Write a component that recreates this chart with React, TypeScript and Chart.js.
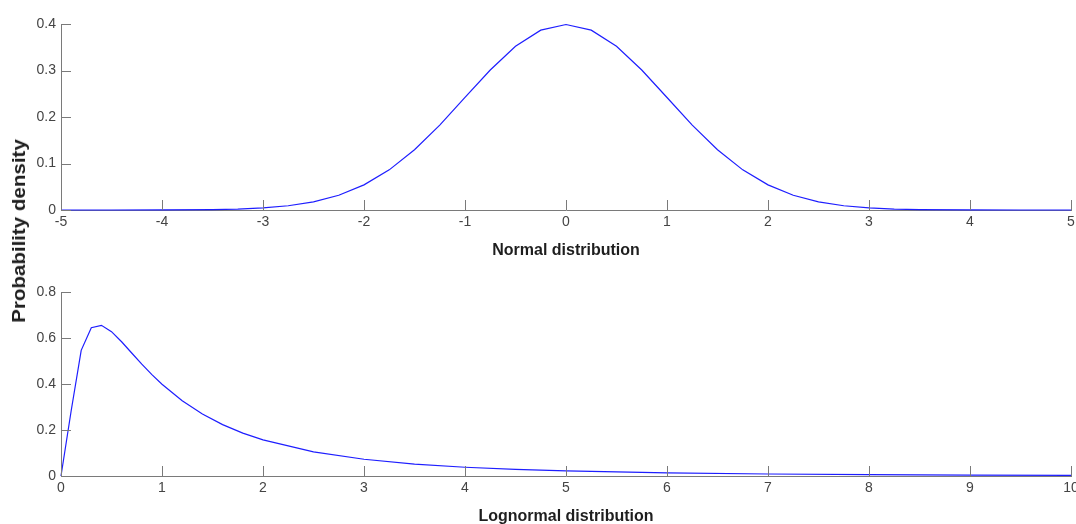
import React, { useEffect, useRef } from "react";
import { Chart, registerables } from "chart.js";

Chart.register(...registerables);

// ---- Data ----
const normalX = [-5, -4.5, -4, -3.5, -3.25, -3, -2.75, -2.5, -2.25, -2, -1.75, -1.5, -1.25, -1, -0.75, -0.5, -0.25, 0, 0.25, 0.5, 0.75, 1, 1.25, 1.5, 1.75, 2, 2.25, 2.5, 2.75, 3, 3.25, 3.5, 4, 4.5, 5];
const normalY = [0, 0, 0.0001, 0.0009, 0.002, 0.0044, 0.0091, 0.0175, 0.0317, 0.054, 0.0863, 0.1295, 0.1826, 0.242, 0.3011, 0.3521, 0.3867, 0.3989, 0.3867, 0.3521, 0.3011, 0.242, 0.1826, 0.1295, 0.0863, 0.054, 0.0317, 0.0175, 0.0091, 0.0044, 0.002, 0.0009, 0.0001, 0, 0];

const lognormalX = [0, 0.1, 0.2, 0.3, 0.4, 0.5, 0.6, 0.7, 0.8, 0.9, 1, 1.2, 1.4, 1.6, 1.8, 2, 2.5, 3, 3.5, 4, 4.5, 5, 6, 7, 8, 9, 10];
const lognormalY = [0, 0.2816, 0.5463, 0.6444, 0.6552, 0.6276, 0.5836, 0.5348, 0.4864, 0.4408, 0.3989, 0.3269, 0.2693, 0.2233, 0.1865, 0.1569, 0.1049, 0.0727, 0.052, 0.0381, 0.0286, 0.0219, 0.0134, 0.0086, 0.0057, 0.004, 0.0028];

const normalXTicks = [-5, -4, -3, -2, -1, 0, 1, 2, 3, 4, 5];
const normalXTickLabels = ["-5", "-4", "-3", "-2", "-1", "0", "1", "2", "3", "4", "5"];
const normalYTicks = [0, 0.1, 0.2, 0.3, 0.4];
const normalYTickLabels = ["0", "0.1", "0.2", "0.3", "0.4"];

const lognormalXTicks = [0, 1, 2, 3, 4, 5, 6, 7, 8, 9, 10];
const lognormalXTickLabels = ["0", "1", "2", "3", "4", "5", "6", "7", "8", "9", "10"];
const lognormalYTicks = [0, 0.2, 0.4, 0.6, 0.8];
const lognormalYTickLabels = ["0", "0.2", "0.4", "0.6", "0.8"];

const normalTitle = "Normal distribution";
const lognormalTitle = "Lognormal distribution";
const yAxisTitle = "Probability density";

// ---- Styles ----
const W = 1076;
const H = 262;
const AXIS = "#7a7a7a";
const TICK_TEXT = "#444444";
const TITLE_TEXT = "#1e1e1e";
const LINE = "rgb(30,30,255)";
const TICK_FONT = '"Liberation Sans Narrow", "Liberation Sans", Arial, sans-serif';
const TITLE_FONT = '"Liberation Sans", Arial, sans-serif';

const inwardTicks = {
  id: "inwardTicks",
  afterDatasetsDraw(chart: any) {
    const { ctx, chartArea, scales } = chart;
    ctx.save();
    ctx.strokeStyle = AXIS;
    ctx.lineWidth = 1;
    scales.x.ticks.forEach((t: any) => {
      const px = Math.round(scales.x.getPixelForValue(t.value)) + 0.5;
      ctx.beginPath();
      ctx.moveTo(px, chartArea.bottom);
      ctx.lineTo(px, chartArea.bottom - 10);
      ctx.stroke();
    });
    scales.y.ticks.forEach((t: any) => {
      const py = Math.round(scales.y.getPixelForValue(t.value)) + 0.5;
      ctx.beginPath();
      ctx.moveTo(chartArea.left, py);
      ctx.lineTo(chartArea.left + 10, py);
      ctx.stroke();
    });
    ctx.restore();
  },
};

function makeConfig(
  xs: number[],
  ys: number[],
  xTicks: number[],
  xLabels: string[],
  yTicks: number[],
  yLabels: string[],
  title: string,
  padTop: number,
  xAxisHeight: number,
  titlePadBottom: number
): any {
  const pts = xs.map((x, i) => ({ x, y: ys[i] }));
  return {
    type: "line",
    data: {
      datasets: [
        {
          data: pts,
          borderColor: LINE,
          borderWidth: 1.2,
          pointRadius: 0,
          fill: false,
          tension: 0,
          clip: false,
        },
      ],
    },
    options: {
      animation: false,
      responsive: false,
      events: [],
      layout: { padding: { top: padTop, right: 5, left: 0, bottom: 0 } },
      plugins: { legend: { display: false }, tooltip: { enabled: false } },
      scales: {
        x: {
          type: "linear",
          min: xTicks[0],
          max: xTicks[xTicks.length - 1],
          afterBuildTicks: (s: any) => {
            s.ticks = xTicks.map((v) => ({ value: v }));
          },
          afterFit: (s: any) => {
            s.height = xAxisHeight;
            s.paddingLeft = 0;
            s.paddingRight = 0;
          },
          ticks: {
            autoSkip: false,
            maxRotation: 0,
            padding: 4,
            color: TICK_TEXT,
            font: { family: TICK_FONT, size: 14 },
            callback: (_v: any, i: number) => xLabels[i],
          },
          grid: { display: true, drawOnChartArea: false, drawTicks: false },
          border: { display: true, color: AXIS, width: 1 },
          title: {
            display: true,
            text: title,
            color: TITLE_TEXT,
            font: { family: TITLE_FONT, size: 16, weight: "bold", lineHeight: 0.8 },
            padding: { top: 0, bottom: titlePadBottom },
          },
        },
        y: {
          type: "linear",
          min: yTicks[0],
          max: yTicks[yTicks.length - 1],
          afterBuildTicks: (s: any) => {
            s.ticks = yTicks.map((v) => ({ value: v }));
          },
          afterFit: (s: any) => {
            s.width = 61;
            s.paddingTop = 0;
            s.paddingBottom = 0;
          },
          ticks: {
            autoSkip: false,
            padding: 5,
            color: TICK_TEXT,
            font: { family: TICK_FONT, size: 14 },
            callback: (_v: any, i: number) => yLabels[i],
          },
          grid: { display: true, drawOnChartArea: false, drawTicks: false },
          border: { display: true, color: AXIS, width: 1 },
        },
      },
    },
    plugins: [inwardTicks],
  };
}

export default function App() {
  const topRef = useRef<HTMLCanvasElement | null>(null);
  const botRef = useRef<HTMLCanvasElement | null>(null);

  useEffect(() => {
    if (!topRef.current || !botRef.current) return;
    const c1 = new Chart(
      topRef.current,
      makeConfig(normalX, normalY, normalXTicks, normalXTickLabels, normalYTicks, normalYTickLabels, normalTitle, 24, 52, 4.6)
    );
    const c2 = new Chart(
      botRef.current,
      makeConfig(lognormalX, lognormalY, lognormalXTicks, lognormalXTickLabels, lognormalYTicks, lognormalYTickLabels, lognormalTitle, 30, 48, 0.6)
    );
    return () => {
      c1.destroy();
      c2.destroy();
    };
  }, []);

  return (
    <div style={{ position: "absolute", left: 0, top: 0, width: W, height: 2 * H, background: "#fff", overflow: "hidden" }}>
      <canvas ref={topRef} width={W} height={H} style={{ position: "absolute", left: 0, top: 0, width: W, height: H }} />
      <canvas ref={botRef} width={W} height={H} style={{ position: "absolute", left: 0, top: H, width: W, height: H }} />
      <div
        style={{
          position: "absolute",
          left: 19,
          top: 231,
          transform: "translate(-50%, -50%) rotate(-90deg) scaleX(1.14)",
          whiteSpace: "nowrap",
          fontFamily: TITLE_FONT,
          fontWeight: "bold",
          fontSize: 18,
          lineHeight: "18px",
          color: TITLE_TEXT,
        }}
      >
        {yAxisTitle}
      </div>
    </div>
  );
}
